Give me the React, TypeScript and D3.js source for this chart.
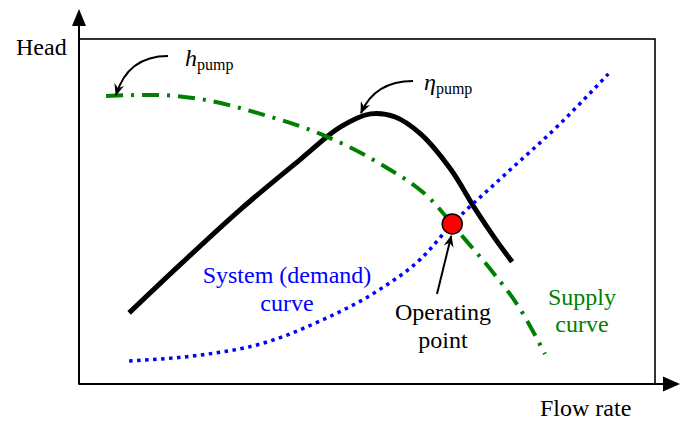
import React from "react";
import * as d3 from "d3";

// Conceptual pump chart, values in arbitrary units (0..10)
const efficiencyX = [0.87, 1.77, 2.81, 3.85, 4.54, 5.06, 5.49, 5.93, 6.45, 6.88, 7.23, 7.52];
const efficiencyY = [2.06, 3.48, 5.07, 6.52, 7.45, 7.83, 7.74, 7.25, 6.23, 5.07, 4.2, 3.54];

const supplyX = [0.47, 1.25, 2.11, 3.15, 4.19, 5.23, 6.1, 6.62, 7.14, 7.66, 8.09];
const supplyY = [8.35, 8.38, 8.26, 7.83, 7.25, 6.38, 5.36, 4.35, 3.33, 2.17, 0.87];

const systemX = [0.87, 2.11, 3.15, 4.19, 5.23, 5.93, 6.48, 7.31, 8.35, 9.19];
const systemY = [0.67, 0.84, 1.16, 1.83, 2.75, 3.62, 4.64, 5.94, 7.54, 8.99];

const operatingPoint = [6.48, 4.64];

const W = 687;
const H = 424;

const x = d3.scaleLinear().domain([0, 10]).range([79, 655]);
const y = d3.scaleLinear().domain([0, 10]).range([384, 39]);

const zip = (xs: number[], ys: number[]) => xs.map((v, i) => [v, ys[i]] as [number, number]);

const smooth = d3
  .line<[number, number]>()
  .x(d => x(d[0]))
  .y(d => y(d[1]))
  .curve(d3.curveCatmullRom.alpha(0.5));

const mono = d3
  .line<[number, number]>()
  .x(d => x(d[0]))
  .y(d => y(d[1]))
  .curve(d3.curveMonotoneX);

const serif = { fontFamily: "'Liberation Serif', 'DejaVu Serif', serif" };

export default function App() {
  const [ox, oy] = [x(operatingPoint[0]), y(operatingPoint[1])];

  return (
    <div style={{ position: "fixed", left: 0, top: 0 }}>
      <svg width={W} height={H} style={{ display: "block", background: "#fff" }}>
        <defs>
          <marker id="barb" viewBox="0 0 12 10" refX="11" refY="5" markerWidth="12" markerHeight="10"
            markerUnits="userSpaceOnUse" orient="auto">
            <path d="M0,0 L12,5 L0,10 L4,5 z" fill="#000" />
          </marker>
        </defs>

        {/* frame */}
        <rect x={79} y={39} width={576} height={345} fill="none" stroke="#000" strokeWidth={1.6} />
        {/* axes with arrows */}
        <line x1={79} y1={384} x2={79} y2={22} stroke="#000" strokeWidth={2} />
        <path d="M79,9 L72,26 L86,26 Z" fill="#000" />
        <line x1={79} y1={384} x2={666} y2={384} stroke="#000" strokeWidth={2} />
        <path d="M680,384 L663,376.5 L663,391.5 Z" fill="#000" />

        <text x={16} y={55} fontSize={24} style={serif}>Head</text>
        <text x={540} y={416} fontSize={24} style={serif}>Flow rate</text>

        {/* curves */}
        <path d={smooth(zip(efficiencyX, efficiencyY)) ?? ""} fill="none" stroke="#000" strokeWidth={5} />
        <path d={mono(zip(supplyX, supplyY)) ?? ""} fill="none" stroke="#008000" strokeWidth={4}
          strokeDasharray="17,8,3,8" />
        <path d={mono(zip(systemX, systemY)) ?? ""} fill="none" stroke="#0000ff" strokeWidth={3.5}
          strokeDasharray="3.5,4.5" />

        <circle cx={ox} cy={oy} r={10} fill="#ff0000" stroke="#000" strokeWidth={1.5} />

        {/* annotations */}
        <path d="M168,56 Q128,56 116,95" fill="none" stroke="#000" strokeWidth={2} markerEnd="url(#barb)" />
        <text x={185} y={66} fontSize={24} fontStyle="italic" style={serif}>h<tspan fontStyle="normal" fontSize={16} dy={4}>pump</tspan></text>

        <path d="M413,81 Q375,81 361,113" fill="none" stroke="#000" strokeWidth={2} markerEnd="url(#barb)" />
        <text x={424} y={90} fontSize={24} fontStyle="italic" style={serif}>η<tspan fontStyle="normal" fontSize={16} dy={4}>pump</tspan></text>

        <path d={`M437,294 L${ox - 1},${oy + 12}`} fill="none" stroke="#000" strokeWidth={2} markerEnd="url(#barb)" />

        <g textAnchor="middle" fontSize={24}>
          <text x={443} y={320} style={serif}>Operating</text>
          <text x={443} y={348} style={serif}>point</text>
          <text x={287} y={283} fill="#0000ff" style={serif}>System (demand)</text>
          <text x={287} y={311} fill="#0000ff" style={serif}>curve</text>
          <text x={582} y={305} fill="#008000" style={serif}>Supply</text>
          <text x={582} y={332} fill="#008000" style={serif}>curve</text>
        </g>
      </svg>
    </div>
  );
}
